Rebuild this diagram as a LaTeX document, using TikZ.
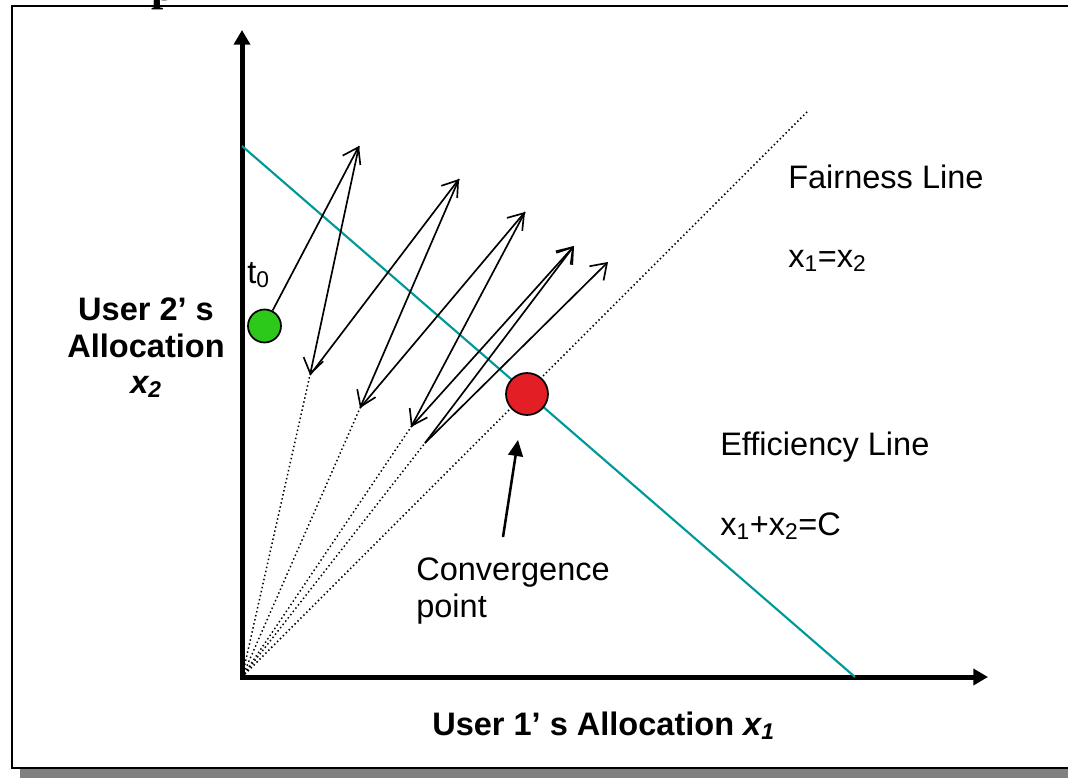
\documentclass[tikz,border=0pt]{standalone}
\usepackage{fontspec}
\setmainfont{Liberation Sans}
\newfontfamily\titleserif{Liberation Serif}
\usetikzlibrary{arrows.meta}
\definecolor{effteal}{RGB}{0,153,153}
\definecolor{convred}{RGB}{227,30,36}
\definecolor{startgreen}{RGB}{45,201,26}
\definecolor{shadowgray}{RGB}{128,128,128}

\begin{document}
\begin{tikzpicture}[x=0.75pt,y=-0.75pt,
  lbl/.style={inner sep=0pt, anchor=base west, font=\fontsize{24.4}{29}\selectfont},
  axlbl/.style={inner sep=0pt, anchor=base, font=\fontsize{24.4}{29}\selectfont\bfseries},
  axis/.style={line width=3.75pt, line join=miter,
    {Triangle[length=11pt,width=12pt]}-{Triangle[length=11pt,width=12pt]}},
  effline/.style={draw=effteal, line width=1.6pt},
  guide/.style={line width=1.1pt, dash pattern=on 1.1pt off 2pt},
  move/.style={line width=1.25pt, -{Straight Barb[length=11pt,width=15pt]}},
  pointer/.style={line width=1.9pt, -{Triangle[length=12pt,width=11pt]}},
  dot/.style={circle, draw=black, line width=1.3pt, inner sep=0pt},
]
\useasboundingbox (0,0) rectangle (1068,778);
\clip (0,0) rectangle (1068,778);

% drop shadow and frame
\fill[shadowgray] (20,16) rectangle (1090,790);
\draw[fill=white, line width=1.5pt] (12,6) rectangle (1080,768);

% descender of the heading above the frame
\node[inner sep=0pt, anchor=base west,
  font=\titleserif\bfseries\fontsize{33}{33}\selectfont] (heading) at (151,1) {p};

% axes
\coordinate (O) at (242,677);
\coordinate (ytip) at (242,30);
\coordinate (xtip) at (988,677);
\draw[axis] (ytip) -- (O) -- (xtip);

% efficiency line x1+x2=C
\coordinate (effTop) at (242,146);
\coordinate (effEnd) at (855,677);
\draw[effline] (effTop) -- (effEnd);

% fairness line x1=x2
\coordinate (fairEnd) at (807,112);
\draw[guide] (O) -- (fairEnd);

% trajectory points
\coordinate (a1) at (359,146);
\coordinate (b1) at (310,375);
\coordinate (a2) at (459,179);
\coordinate (b2) at (360,408);
\coordinate (a3) at (525,212);
\coordinate (b3) at (411,427);
\coordinate (a4) at (574,246);
\coordinate (b4) at (425,443);
\coordinate (a5) at (608,262);

% rays back to the origin
\foreach \p in {b1,b2,b3,b4} \draw[guide] (O) -- (\p);

% start and convergence points
\node[dot, fill=startgreen, minimum size=24.75pt] (start) at (264.5,326) {};
\node[dot, fill=convred, minimum size=31.5pt] (conv) at (527,394) {};

% trajectory
\draw[move] (start) -- (a1);
\draw[move] (a1) -- (b1);
\draw[move] (b1) -- (a2);
\draw[move] (a2) -- (b2);
\draw[move] (b2) -- (a3);
\draw[move] (a3) -- (b3);
\draw[move] (b3) -- (a4);
\draw[move] (b4) -- (a4);
\draw[move] (b4) -- (a5);

% labels
\node[lbl] (t0) at (247,283) {t\textsubscript{0}};
\node[lbl] (fairName) at (788,188) {Fairness Line};
\node[lbl] (fairEq) at (788,267) {x\textsubscript{1}=x\textsubscript{2}};
\node[lbl] (effName) at (720,455) {Efficiency Line};
\node[lbl] (effEq) at (720,535) {x\textsubscript{1}+x\textsubscript{2}=C};
\node[lbl] (convName) at (416,580) {Convergence};
\node[lbl] (convName2) at (416,617) {point};

\coordinate (ptrFoot) at (503,537);
\draw[pointer] (ptrFoot) -- (518,440);

\node[axlbl] (yl1) at (146,320) {User 2’ s};
\node[axlbl] (yl2) at (146,357) {Allocation};
\node[axlbl] (yl3) at (146,393) {\itshape x\textsubscript{2}};
\node[axlbl, anchor=base west] (xl) at (432,735) {User 1’ s Allocation \itshape x\textsubscript{1}};
\end{tikzpicture}
\end{document}
